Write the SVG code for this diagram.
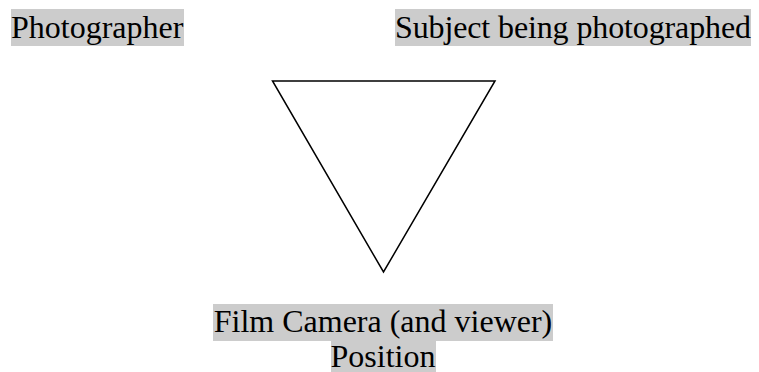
<svg xmlns="http://www.w3.org/2000/svg" width="759" height="372" viewBox="0 0 759 372">
<style>
.hl{fill:#cccccc}
.t{font-family:"Liberation Serif","Times New Roman",serif;font-size:32px;fill:#000}
.edge{fill:none;stroke:#000;stroke-width:1.5;stroke-linejoin:miter}
</style>
<rect width="759" height="372" fill="#fff"/>
<g id="photographer">
<rect class="hl" x="11" y="9" width="173" height="37"/>
<text class="t" x="11" y="38">Photographer</text>
</g>
<g id="subject">
<rect class="hl" x="395" y="9" width="356" height="37"/>
<text class="t" x="395" y="38" textLength="356">Subject being photographed</text>
</g>
<g id="camera">
<rect class="hl" x="213" y="304" width="340" height="37"/>
<rect class="hl" x="331" y="341" width="105" height="31"/>
<text class="t" x="383" y="332" text-anchor="middle">Film Camera (and viewer)</text>
<text class="t" x="383" y="367" text-anchor="middle">Position</text>
</g>
<g id="connectors">
<polygon class="edge" points="272.5,81 495,81 383.5,272"/>
</g>
</svg>
